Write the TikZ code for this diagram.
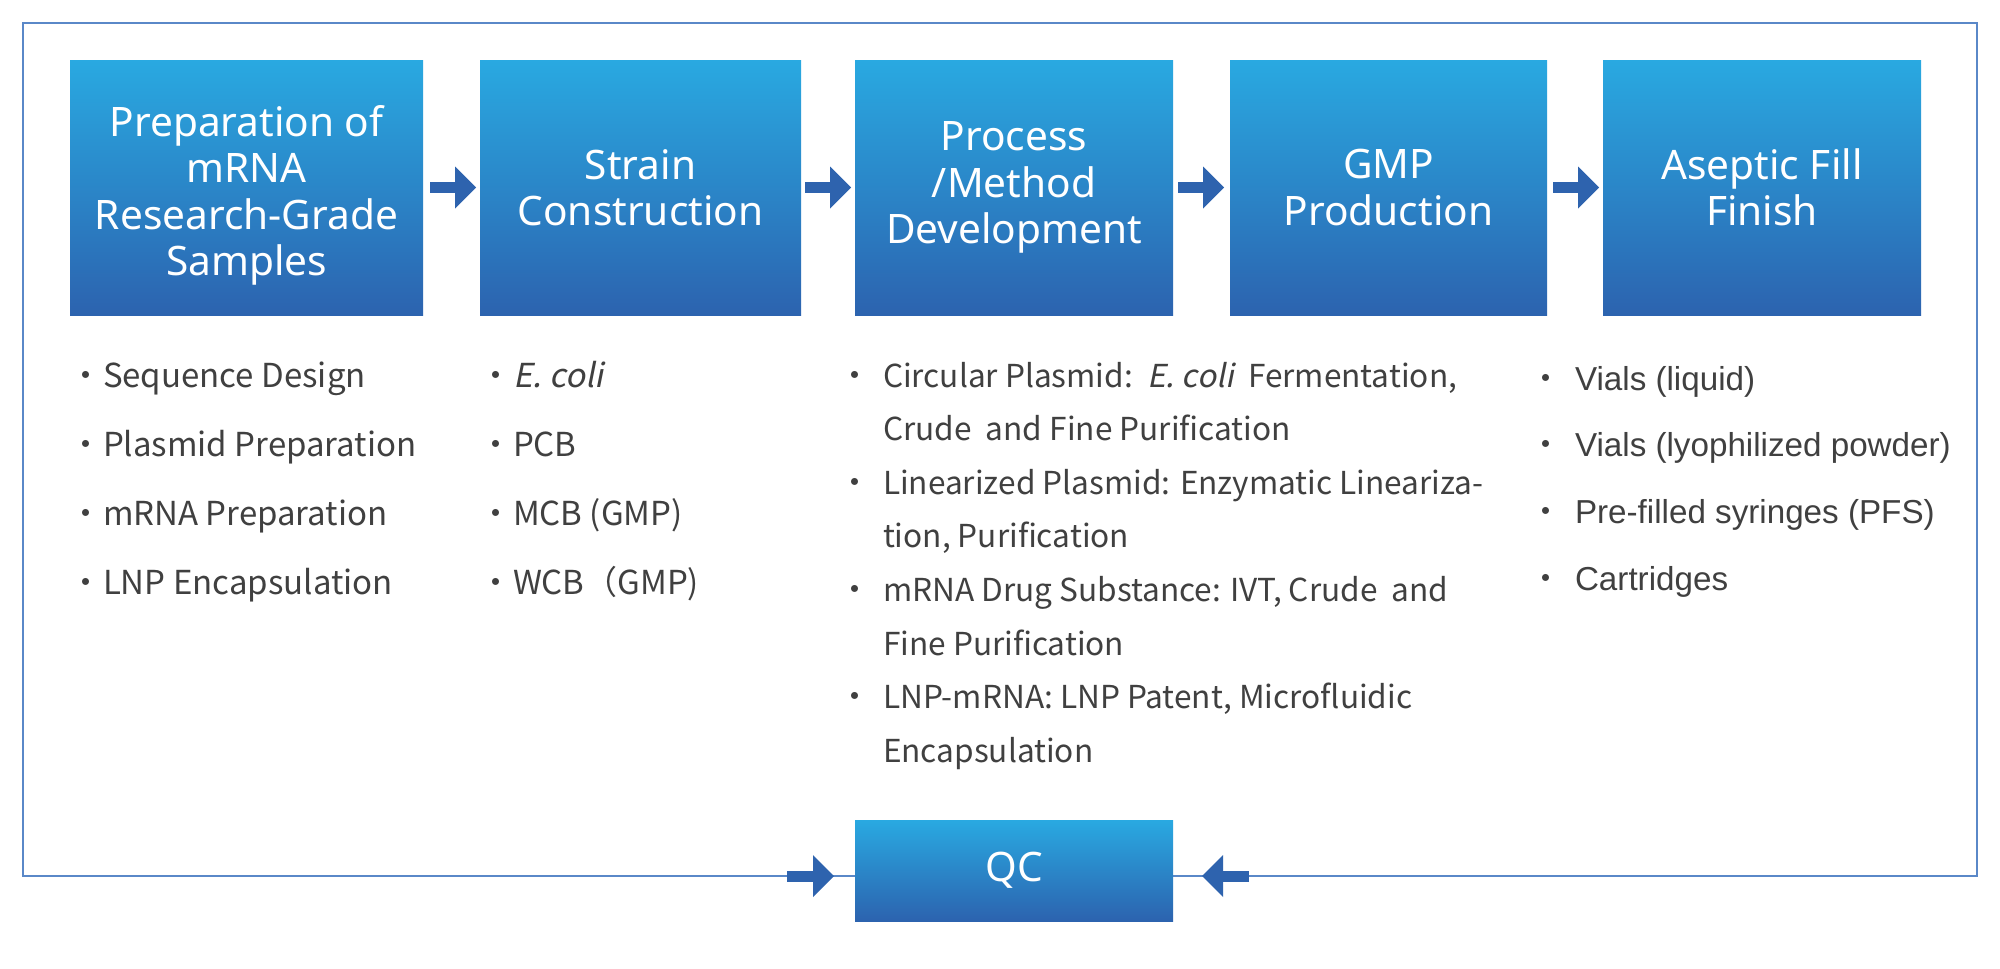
\documentclass[tikz,border=0pt]{standalone}
\usepackage{fontspec}
\setmainfont{Noto Sans}
\newfontfamily\titlefont{Noto Sans}
\newfontfamily\jpfont{Noto Sans CJK JP}
\newfontfamily\jpit{Noto Sans CJK JP}[FakeSlant=0.2]
\newfontfamily\arfont{Liberation Sans}
\usetikzlibrary{arrows.meta}
\definecolor{boxtop}{HTML}{29A9E1}
\definecolor{boxmid}{HTML}{1F8FDF}
\definecolor{boxbot}{HTML}{2C63AF}
\definecolor{arrowblue}{HTML}{2E63AE}
\definecolor{frameblue}{HTML}{5A88C8}
\definecolor{txt}{HTML}{404040}
\begin{document}
\begin{tikzpicture}[x=1pt,y=-1pt,
  stage/.style={rectangle, inner sep=0pt, outer sep=0pt, draw=none,
    top color=boxtop, middle color=boxmid, bottom color=boxbot,
    minimum height=255pt, text=white, align=center,
    font=\titlefont\fontsize{40.6}{46.5}\selectfont},
  blockarrow/.style={draw=arrowblue, line width=11pt, line cap=butt,
    -{Triangle[length=21pt,width=42pt,line width=0pt,fill=arrowblue]}},
  frame/.style={draw=frameblue, line width=2.2pt},
  dot/.style={inner sep=0pt, outer sep=0pt, text=txt, font=\jpfont\fontsize{33}{33}\selectfont},
  item/.style={inner sep=0pt, outer sep=0pt, text=txt, font=\jpfont\fontsize{33}{33}\selectfont},
  itemsm/.style={inner sep=0pt, outer sep=0pt, text=txt, font=\jpfont\fontsize{31.6}{31.6}\selectfont},
  itemar/.style={inner sep=0pt, outer sep=0pt, text=txt, font=\arfont\fontsize{33.2}{33.2}\selectfont},
]
\useasboundingbox (0,0) rectangle (2000,969);
\fill[white] (0,0) rectangle (2000,969);

% outer frame
\draw[frame] (23,23) rectangle (1977,876);

% stage boxes
\node[stage, minimum width=353pt] (b1) at (246.5,187.5) {\rule{0pt}{47pt}Preparation of\\mRNA\\Research-Grade\\Samples};
\node[stage, minimum width=321pt] (b2) at (640.5,187.5) {Strain\\Construction};
\node[stage, minimum width=318pt] (b3) at (1014,187.5) {Process\\/Method\\Development};
\node[stage, minimum width=317pt] (b4) at (1388.5,187.5) {GMP\\Production};
\node[stage, minimum width=318pt] (b5) at (1762,187.5) {Aseptic Fill\\Finish};
\node[stage, minimum width=318pt, minimum height=101pt] (qc) at (1014,870.5) {QC};

% arrows between stages
\draw[blockarrow] ([xshift=7pt]b1.east) -- ([xshift=-4pt]b2.west);
\draw[blockarrow] ([xshift=4pt]b2.east) -- ([xshift=-4pt]b3.west);
\draw[blockarrow] ([xshift=5pt]b3.east) -- ([xshift=-6pt]b4.west);
\draw[blockarrow] ([xshift=6pt]b4.east) -- ([xshift=-4pt]b5.west);

% arrows into QC on the frame line
\coordinate (qlfrom) at (787,876);
\coordinate (qlto) at (834,876);
\coordinate (qrfrom) at (1249,876);
\coordinate (qrto) at (1202,876);
\draw[blockarrow] (qlfrom) -- (qlto);
\draw[blockarrow] (qrfrom) -- (qrto);

% list 1
\foreach \t [count=\i from 0] in {Sequence Design, Plasmid Preparation, mRNA Preparation, LNP Encapsulation} {
  \node[dot, anchor=base] (d1-\i) at (86, 387+69*\i) {・};
  \node[item, anchor=base west] (t1-\i) at (103, 387+69*\i) {\t};
}

% list 2
\foreach \t [count=\i from 0] in {{\jpit E. coli}, PCB, MCB (GMP), WCB（GMP)} {
  \node[dot, anchor=base] (d2-\i) at (496, 387+69*\i) {・};
  \node[item, anchor=base west] (t2-\i) at (513, 387+69*\i) {\t};
}

% list 3
\foreach \k in {0,2,4,6} {
  \node[dot, anchor=base] (d3-\k) at (855, 387+53.6*\k) {・};
}
\node[itemsm, anchor=base west] (t3-0) at (883, 387) {Circular Plasmid:\ \ {\jpit E. coli}\ \ Fermentation,};
\node[itemsm, anchor=base west] (t3-1) at (883, 387+53.6) {Crude\ \ and Fine Purification};
\node[itemsm, anchor=base west] (t3-2) at (883, 387+53.6*2) {Linearized Plasmid: Enzymatic Lineariza-};
\node[itemsm, anchor=base west] (t3-3) at (883, 387+53.6*3) {tion, Purification};
\node[itemsm, anchor=base west] (t3-4) at (883, 387+53.6*4) {mRNA Drug Substance: IVT, Crude\ \ and};
\node[itemsm, anchor=base west] (t3-5) at (883, 387+53.6*5) {Fine Purification};
\node[itemsm, anchor=base west] (t3-6) at (883, 387+53.6*6) {LNP-mRNA: LNP Patent, Microfluidic};
\node[itemsm, anchor=base west] (t3-7) at (883, 387+53.6*7) {Encapsulation};

% list 5
\foreach \t [count=\i from 0] in {Vials (liquid), Vials (lyophilized powder), Pre-filled syringes (PFS), Cartridges} {
  \node[dot, anchor=base] (d5-\i) at (1546, 390+66.8*\i) {・};
  \node[itemar, anchor=base west] (t5-\i) at (1575, 390+66.8*\i) {\t};
}
\end{tikzpicture}
\end{document}
